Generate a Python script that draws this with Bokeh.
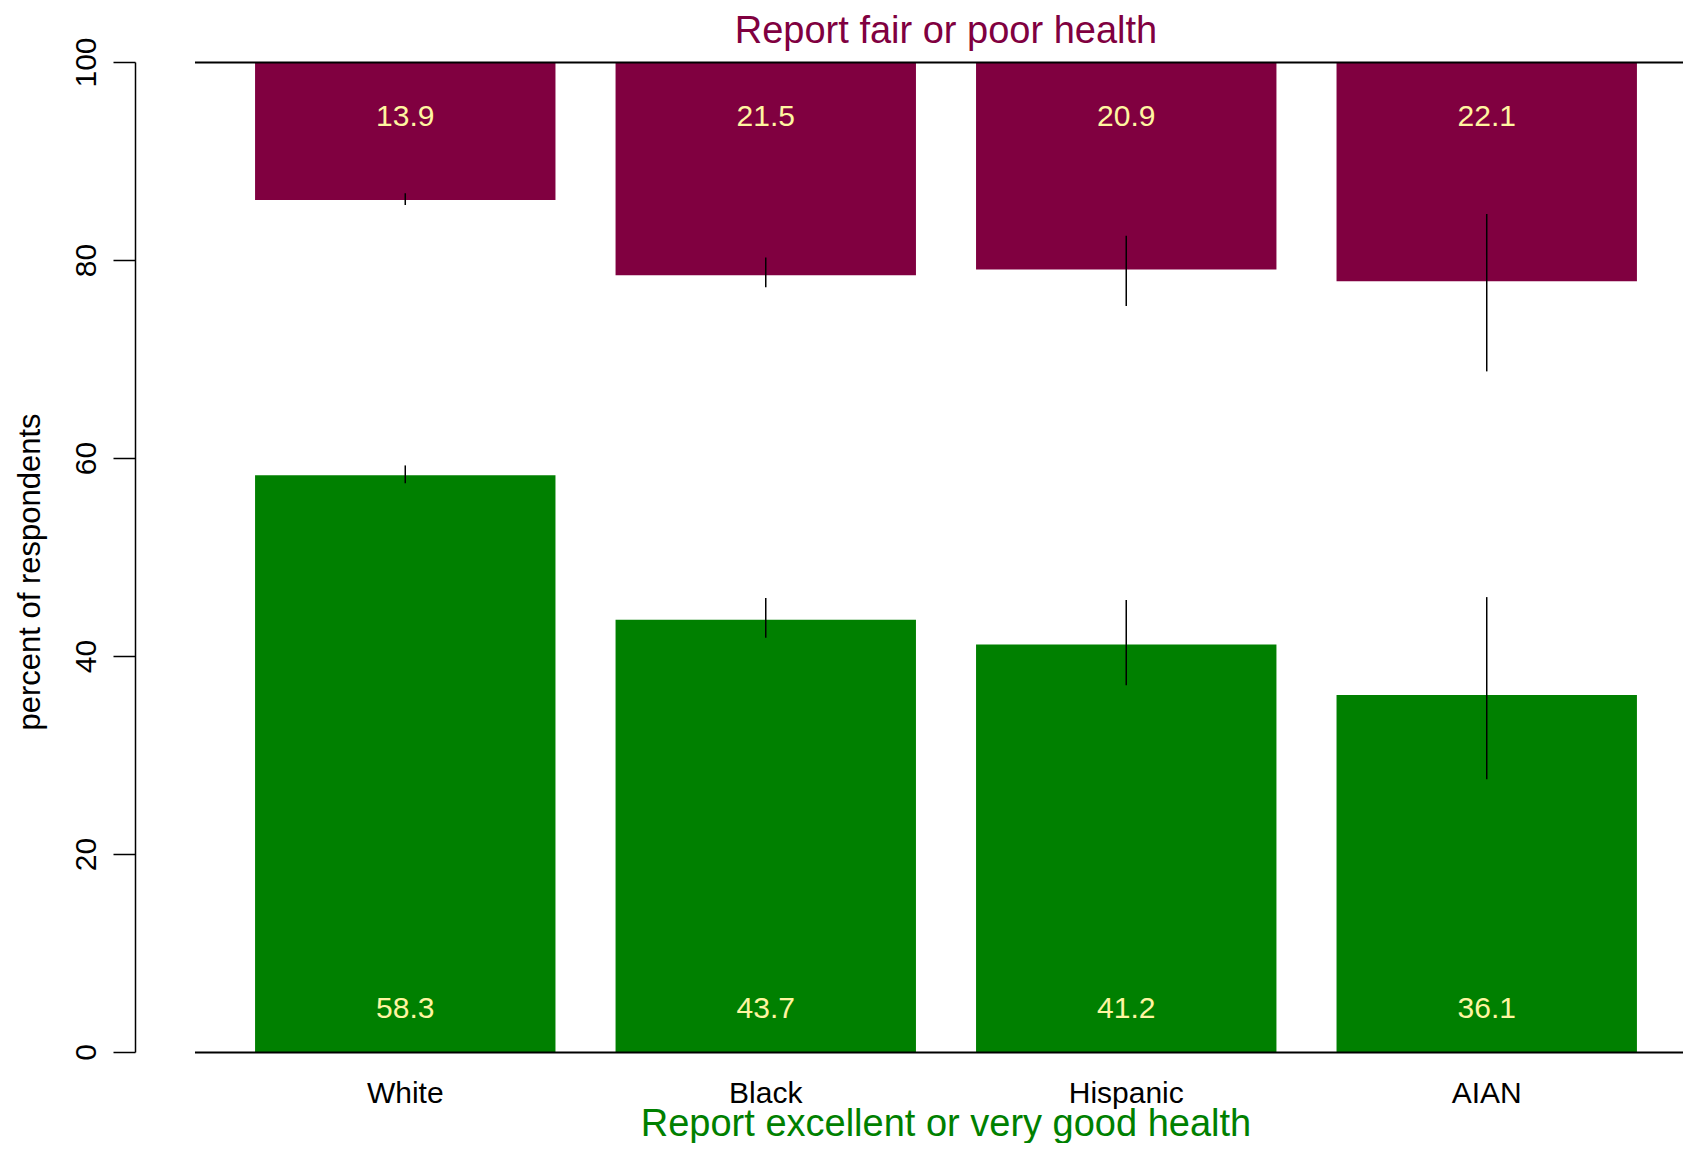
from bokeh.plotting import figure
from bokeh.models import Range1d, LinearAxis, FixedTicker
from bokeh.core.properties import value
from bokeh.embed import file_html
from bokeh.resources import INLINE

# ---- data ----
categories = ["White", "Black", "Hispanic", "AIAN"]
good = [58.3, 43.7, 41.2, 36.1]          # excellent / very good health (%)
good_lo = [57.5, 41.9, 37.1, 27.6]
good_hi = [59.3, 45.9, 45.7, 46.0]
poor = [13.9, 21.5, 20.9, 22.1]          # fair / poor health (%)
poor_lo = [13.2, 19.7, 17.5, 15.3]
poor_hi = [14.4, 22.7, 24.6, 31.2]
y_ticks = [0, 20, 40, 60, 80, 100]

# ---- styling ----
FONT = "Liberation Sans"
MAROON = "#800040"
GREEN = "#008000"
CREAM = "#FFF5A0"
DY = 1.15   # text baseline compensation (data units)

n = len(categories)
xs = [0.7 + 1.2 * i for i in range(n)]   # barplot positions (width 1, space 0.2)
mid = (xs[0] + xs[-1]) / 2

p = figure(width=1683, height=1143, output_backend="svg", toolbar_location=None,
           x_range=Range1d(-0.198, 4.955), y_range=Range1d(-9.192, 106.263),
           min_border_left=135, min_border_right=0, min_border_top=0, min_border_bottom=0,
           x_axis_location=None, y_axis_location=None)
p.outline_line_color = None
p.xgrid.visible = False
p.ygrid.visible = False
p.background_fill_color = "white"
p.border_fill_color = "white"

yaxis = LinearAxis(ticker=FixedTicker(ticks=y_ticks), bounds=(0, 100),
                   axis_label="percent of respondents",
                   axis_label_text_font=FONT, axis_label_text_font_size="31px",
                   axis_label_text_font_style="normal", axis_label_text_color="black",
                   axis_label_standoff=27,
                   major_label_text_font=FONT, major_label_text_font_size="30px",
                   major_label_text_color="black", major_label_orientation="vertical",
                   major_label_standoff=17,
                   major_tick_out=22, major_tick_in=0, minor_tick_out=0, minor_tick_in=0,
                   axis_line_width=1.5, major_tick_line_width=1.5,
                   axis_line_color="black", major_tick_line_color="black")
p.add_layout(yaxis, "left")

# bars
p.vbar(x=xs, width=1.0, bottom=0, top=good, fill_color=GREEN, line_color=None)
p.vbar(x=xs, width=1.0, top=100, bottom=[100 - v for v in poor],
       fill_color=MAROON, line_color=None)

# baseline / top reference lines
p.segment(x0=[0, 0], x1=[5.0, 5.0], y0=[0, 100], y1=[0, 100],
          line_color="black", line_width=2)

# error bars
p.segment(x0=xs, x1=xs, y0=good_lo, y1=good_hi, line_color="black", line_width=1.5)
p.segment(x0=xs, x1=xs, y0=[100 - v for v in poor_lo], y1=[100 - v for v in poor_hi],
          line_color="black", line_width=1.5)

# value labels
p.text(x=xs, y=[3.39 + DY] * n, text=[f"{v:.1f}" for v in good],
       text_font=value(FONT), text_font_size="30px", text_color=CREAM,
       text_align="center", text_baseline="alphabetic")
p.text(x=xs, y=[100 - 6.54 + DY] * n, text=[f"{v:.1f}" for v in poor],
       text_font=value(FONT), text_font_size="30px", text_color=CREAM,
       text_align="center", text_baseline="alphabetic")

# category labels
p.text(x=xs, y=[-5.15 + DY] * n, text=categories,
       text_font=value(FONT), text_font_size="30px", text_color="black",
       text_align="center", text_baseline="alphabetic")

# titles
p.text(x=[mid], y=[102.15 + DY], text=["Report fair or poor health"],
       text_font=value(FONT), text_font_size="38px", text_color=MAROON,
       text_align="center", text_baseline="alphabetic")
p.text(x=[mid], y=[-8.25 + DY], text=["Report excellent or very good health"],
       text_font=value(FONT), text_font_size="38px", text_color=GREEN,
       text_align="center", text_baseline="alphabetic")

open("out.html", "w").write(file_html(p, INLINE))
